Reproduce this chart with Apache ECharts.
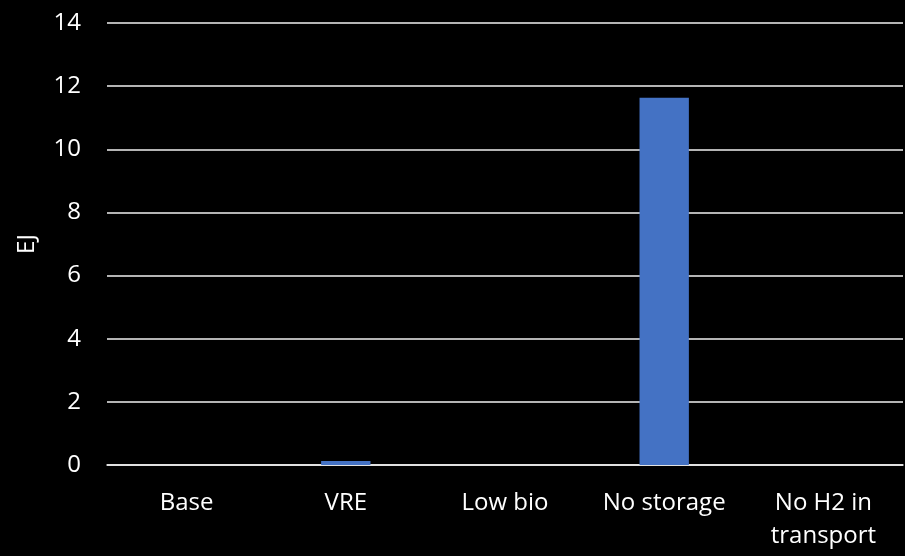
<!DOCTYPE html>
<html>
<head>
<meta charset="utf-8">
<script src="https://cdn.jsdelivr.net/npm/echarts@6/dist/echarts.min.js"></script>
<style>
  html, body { margin: 0; padding: 0; background: #000; }
  #chart { width: 905px; height: 556px; }
</style>
</head>
<body>
<div id="chart"></div>
<script>
// Scenario categories and the energy value (EJ) for each
const categories = ['Base', 'VRE', 'Low bio', 'No storage', 'No H2 in\ntransport'];
const values = [0, 0.13, 0, 11.63, 0];
const yTicks = { min: 0, max: 14, interval: 2 };

const FONT = '"Open Sans", "Noto Sans", sans-serif';
const LINE = { color: '#f0f0f0', width: 1.5 };
const chart = echarts.init(document.getElementById('chart'));
chart.setOption({
  backgroundColor: '#000000',
  animation: false,
  grid: { left: 107, right: 2, top: 23, bottom: 91 },
  xAxis: {
    type: 'category',
    data: categories,
    axisTick: { show: false },
    axisLine: { lineStyle: LINE },
    axisLabel: {
      color: '#ffffff', fontFamily: FONT, fontSize: 24, lineHeight: 33,
      margin: 22, interval: 0
    }
  },
  yAxis: {
    type: 'value',
    min: yTicks.min, max: yTicks.max, interval: yTicks.interval,
    name: 'EJ',
    nameLocation: 'middle',
    nameGap: 68,
    nameRotate: 90,
    nameTextStyle: { color: '#ffffff', fontFamily: FONT, fontSize: 24 },
    axisLine: { show: false },
    axisTick: { show: false },
    axisLabel: { color: '#ffffff', fontFamily: FONT, fontSize: 24, margin: 26 },
    splitLine: { lineStyle: LINE }
  },
  series: [{
    type: 'bar',
    data: values,
    barWidth: '31%',
    itemStyle: { color: '#4472C4' }
  }]
});
</script>
</body>
</html>
